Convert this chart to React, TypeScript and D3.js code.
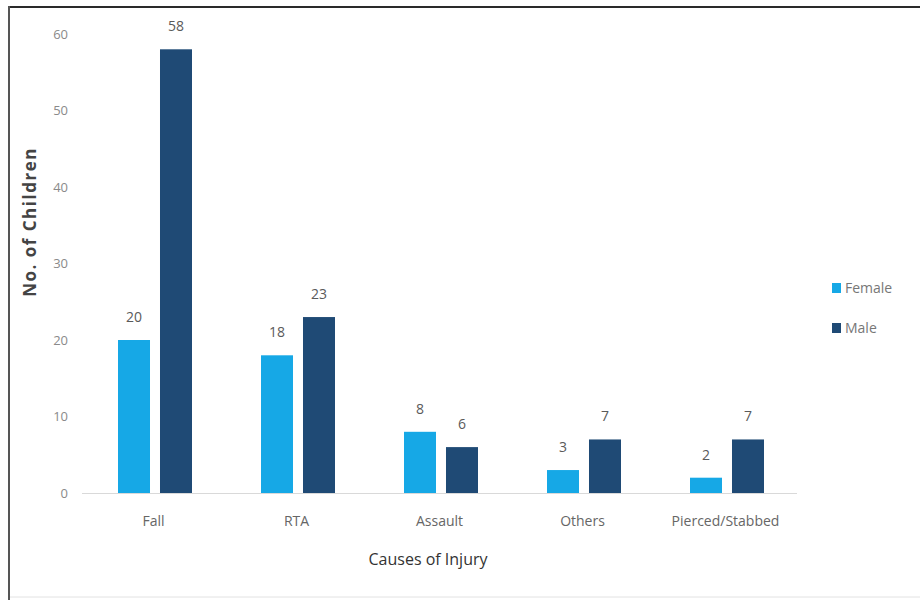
import React, { useEffect, useRef } from "react";
import * as d3 from "d3";

// categories + series
const causes = ["Fall", "RTA", "Assault", "Others", "Pierced/Stabbed"];
const seriesNames = ["Female", "Male"];
const female = [20, 18, 8, 3, 2];
const male = [58, 23, 6, 7, 7];
const yTicks = [0, 10, 20, 30, 40, 50, 60];

const colors: Record<string, string> = { Female: "#16a8e6", Male: "#1f4a75" };
const FONT = "'Open Sans', 'DejaVu Sans', sans-serif";

const App: React.FC = () => {
  const ref = useRef<SVGSVGElement>(null);

  useEffect(() => {
    const svg = d3.select(ref.current);
    svg.selectAll("*").remove();

    const W = 920,
      H = 600;
    const plot = { left: 82, right: 797, top: 34, bottom: 493 };

    // frame
    svg.append("rect").attr("width", W).attr("height", H).attr("fill", "#fff");
    svg.append("line").attr("x1", 8).attr("x2", W).attr("y1", 7).attr("y2", 7)
      .attr("stroke", "#2a2a2a").attr("stroke-width", 2);
    svg.append("line").attr("x1", 9).attr("x2", 9).attr("y1", 6).attr("y2", H)
      .attr("stroke", "#555").attr("stroke-width", 2);
    svg.append("line").attr("x1", 10).attr("x2", W).attr("y1", 597).attr("y2", 597)
      .attr("stroke", "#e2e2e2").attr("stroke-width", 1);

    const x0 = d3.scaleBand().domain(causes).range([plot.left, plot.right]).padding(0);
    const x1 = d3
      .scaleBand()
      .domain(seriesNames)
      .range([36, 110])
      .paddingInner(0.238)
      .paddingOuter(0);
    const y = d3.scaleLinear().domain([0, 60]).range([plot.bottom, plot.top]);

    const rows = causes.map((c, i) => ({
      cause: c,
      values: [
        { key: "Female", value: female[i] },
        { key: "Male", value: male[i] },
      ],
    }));

    // y tick labels (no axis line)
    svg
      .append("g")
      .selectAll("text")
      .data(yTicks)
      .enter()
      .append("text")
      .attr("x", 68)
      .attr("y", (d) => y(d))
      .attr("dy", "0.35em")
      .attr("text-anchor", "end")
      .attr("font-family", FONT)
      .attr("font-size", 13)
      .attr("fill", "#8a8a8a")
      .text((d) => d);

    // baseline
    svg
      .append("line")
      .attr("x1", plot.left)
      .attr("x2", plot.right)
      .attr("y1", y(0) + 0.5)
      .attr("y2", y(0) + 0.5)
      .attr("stroke", "#d9d9d9");

    const groups = svg
      .append("g")
      .selectAll("g")
      .data(rows)
      .enter()
      .append("g")
      .attr("transform", (d) => `translate(${x0(d.cause)},0)`);

    groups
      .selectAll("rect")
      .data((d) => d.values)
      .enter()
      .append("rect")
      .attr("x", (d) => x1(d.key)!)
      .attr("y", (d) => y(d.value))
      .attr("width", x1.bandwidth())
      .attr("height", (d) => y(0) - y(d.value))
      .attr("fill", (d) => colors[d.key]);

    groups
      .selectAll("text.val")
      .data((d) => d.values)
      .enter()
      .append("text")
      .attr("class", "val")
      .attr("x", (d) => x1(d.key)! + x1.bandwidth() / 2)
      .attr("y", (d) => y(d.value) - 18)
      .attr("text-anchor", "middle")
      .attr("font-family", FONT)
      .attr("font-size", 14)
      .attr("fill", "#5a5a5a")
      .text((d) => d.value);

    // category labels
    svg
      .append("g")
      .selectAll("text")
      .data(causes)
      .enter()
      .append("text")
      .attr("x", (d) => x0(d)! + x0.bandwidth() / 2)
      .attr("y", 526)
      .attr("text-anchor", "middle")
      .attr("font-family", FONT)
      .attr("font-size", 14)
      .attr("fill", "#666")
      .text((d) => d);

    // axis titles
    svg
      .append("text")
      .attr("x", 428)
      .attr("y", 565)
      .attr("text-anchor", "middle")
      .attr("font-family", FONT)
      .attr("font-size", 16)
      .attr("fill", "#333")
      .text("Causes of Injury");

    svg
      .append("text")
      .attr("transform", "translate(36,222) rotate(-90)")
      .attr("text-anchor", "middle")
      .attr("font-family", FONT)
      .attr("font-size", 17)
      .attr("font-weight", "bold")
      .attr("letter-spacing", 1.5)
      .attr("fill", "#444")
      .text("No. of Children");

    // legend
    const legend = svg
      .append("g")
      .selectAll("g")
      .data(seriesNames)
      .enter()
      .append("g")
      .attr("transform", (_d, i) => `translate(832,${288 + i * 40})`);
    legend
      .append("rect")
      .attr("x", 0)
      .attr("y", -5)
      .attr("width", 9)
      .attr("height", 10)
      .attr("fill", (d) => colors[d]);
    legend
      .append("text")
      .attr("x", 13)
      .attr("dy", "0.35em")
      .attr("font-family", FONT)
      .attr("font-size", 14)
      .attr("fill", "#777")
      .text((d) => d);
  }, []);

  return (
    <svg
      ref={ref}
      width={920}
      height={600}
      style={{ position: "absolute", left: 0, top: 0, display: "block" }}
    />
  );
};

export default App;
